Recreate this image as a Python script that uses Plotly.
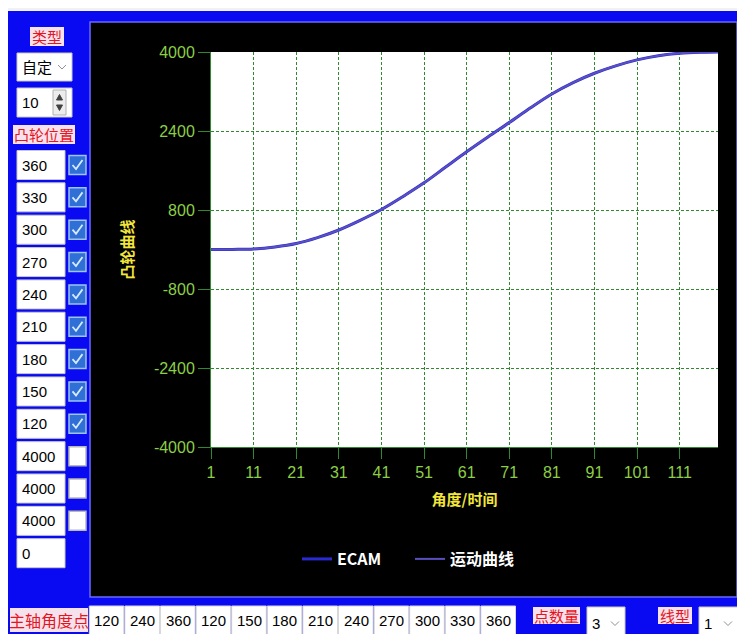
import plotly.graph_objects as go

# ---------------- data ----------------
angle_x = [1, 6, 11, 16, 21, 26, 31, 36, 41, 46, 51, 56, 61, 66, 71, 76, 81, 86, 91, 96, 101, 106, 111, 116, 120]
cam_y = [0, 2, 10, 50, 120, 240, 395, 590, 810, 1070, 1350, 1665, 1980, 2280, 2570, 2870, 3150, 3380, 3570, 3720, 3840, 3925, 3975, 3995, 4000]
x_ticks = [1, 11, 21, 31, 41, 51, 61, 71, 81, 91, 101, 111]
y_ticks = [-4000, -2400, -800, 800, 2400, 4000]
y_tick_text = ["-4000", "-2400", "-800", "800", "2400", "4000"]
series_names = ["ECAM", "运动曲线"]

cam_positions = ["360", "330", "300", "270", "240", "210", "180", "150", "120", "4000", "4000", "4000", "0"]
cam_checked = [True, True, True, True, True, True, True, True, True, False, False, False, None]
spindle_angles = ["120", "240", "360", "120", "150", "180", "210", "240", "270", "300", "330", "360"]
type_value = "自定"
spin_value = "10"
point_count = "3"
line_type = "1"

# ---------------- layout helpers (page pixel -> paper) ----------------
PAGE_W, PAGE_H = 745, 634
OFF = 8                      # page body margin
FW, FH = PAGE_W - OFF, PAGE_H - OFF
L, R, T, B = 211, 718, 52, 447   # plot area in page pixels


def fx(p):
    return (p - L) / (R - L)


def fy(p):
    return (B - p) / (B - T)


shapes = []
annots = []
NARROW = "Liberation Sans Narrow, Arial Narrow, Liberation Sans, Arial"
CJK = "Noto Sans CJK SC"


def rect(x0, y0, x1, y1, fill, line=None, lw=1):
    shapes.append(dict(type="rect", xref="paper", yref="paper",
                       x0=fx(x0), x1=fx(x1), y0=fy(y1), y1=fy(y0),
                       fillcolor=fill,
                       line=dict(color=line if line else fill, width=lw if line else 0),
                       layer="below"))


def path(pts, color, width=1.5, fill=None):
    d = "M " + " L ".join(f"{fx(a):.5f},{fy(b):.5f}" for a, b in pts)
    if fill:
        d += " Z"
    shapes.append(dict(type="path", xref="paper", yref="paper", path=d,
                       line=dict(color=color, width=width),
                       fillcolor=fill if fill else "rgba(0,0,0,0)", layer="below"))


def text(x, y, s, size=14, color="black", anchor="left", family=NARROW, weight="normal"):
    annots.append(dict(xref="paper", yref="paper", x=fx(x), y=fy(y), text=s,
                       showarrow=False, xanchor=anchor, yanchor="middle",
                       font=dict(size=size, color=color, family=family, weight=weight)))


def red_label(x0, y0, x1, y1, s, size=15):
    rect(x0, y0, x1, y1, "#f6e2ec")
    text((x0 + x1) / 2, (y0 + y1) / 2, s, size=size, color="#e6141e", anchor="center", family=CJK)


def dropdown(x0, y0, x1, y1, s, family=NARROW, size=15):
    rect(x0, y0, x1, y1, "white", "#c8c8c8")
    text(x0 + 3, (y0 + y1) / 2, s, size=size, family=family)
    cy = (y0 + y1) / 2
    path([(x1 - 14, cy - 2), (x1 - 10, cy + 2), (x1 - 6, cy - 2)], "#909090", 1)


# top light strip and chart frame
rect(0, 0, PAGE_W, 11, "#f2f2f2")
rect(90, 22, 737, 597, "black", "#6a6aff", 1.5)
rect(L, T, R, B, "white")

# left panel
red_label(30, 27, 64, 46, "类型")
dropdown(17, 53, 72, 81, type_value, family=CJK, size=15)
rect(17, 88, 72, 117, "white", "#c8c8c8")
text(20, 102, spin_value, size=15)
rect(53, 90, 66, 115, "#ececec", "#b0b0b0")
path([(56.5, 100), (59.5, 94.5), (62.5, 100)], "#404040", 1, fill="#404040")
path([(56.5, 105), (59.5, 110.5), (62.5, 105)], "#404040", 1, fill="#404040")
red_label(13, 125, 75, 144, "凸轮位置")

for i, (val, chk) in enumerate(zip(cam_positions, cam_checked)):
    cy = 165 + 32.35 * i
    rect(17, cy - 14.5, 65, cy + 14.5, "white", "#c8c8c8")
    text(20, cy, val, size=15)
    if chk is None:
        continue
    if chk:
        rect(69, cy - 9.5, 86, cy + 9.5, "#2f6fd6", "#9cc4f4", 1.5)
        path([(72.5, cy), (76, cy + 4), (82.5, cy - 5)], "#d6eaff", 1.8)
    else:
        rect(69, cy - 9.5, 86, cy + 9.5, "white", "#b8b8b8", 1.5)

# bottom row
red_label(10, 608, 88, 632, "主轴角度点", size=16)
for i, val in enumerate(spindle_angles):
    x0 = 89.3 + 35.6 * i
    rect(x0, 606, x0 + 34.6, 640, "white", "#d8d8d8")
    text(x0 + 3, 620, val, size=15)
red_label(533, 607, 580, 624, "点数量")
dropdown(587, 607, 625, 640, point_count)
red_label(658, 607, 692, 624, "线型")
dropdown(699, 607, 738, 640, line_type)

# ---------------- figure ----------------
fig = go.Figure()
fig.add_trace(go.Scatter(x=angle_x, y=cam_y, mode="lines", name=series_names[0],
                         line=dict(color="#2a2ad2", width=3, shape="spline")))
fig.add_trace(go.Scatter(x=angle_x, y=cam_y, mode="lines", name=series_names[1],
                         line=dict(color="#5a50c0", width=2, shape="spline")))

green = "#8ccf45"
grid = "#2f8a2f"
fig.update_layout(
    width=FW, height=FH,
    margin=dict(l=L - OFF, r=PAGE_W - R, t=T - OFF, b=PAGE_H - B, pad=0),
    paper_bgcolor="#0a0af2",
    plot_bgcolor="white",
    shapes=shapes,
    annotations=annots,
    showlegend=True,
    legend=dict(orientation="h", x=fx(297), xanchor="left", y=fy(559), yanchor="middle",
                bgcolor="rgba(0,0,0,0)",
                font=dict(color="white", size=16, family=CJK, weight="bold"),
                entrywidth=68, entrywidthmode="pixels",
                itemwidth=30),
    xaxis=dict(range=[1, 120], tickvals=x_ticks, ticks="outside", ticklen=11, tickcolor=grid,
               tickfont=dict(color=green, size=16, family=NARROW),
               showgrid=True, gridcolor=grid, griddash="3px,2px", gridwidth=1,
               showline=True, linecolor=grid, linewidth=1, zeroline=False,
               title=dict(text="角度/时间", standoff=14,
                          font=dict(color="#f2e63c", size=15, family=CJK, weight="bold"))),
    yaxis=dict(range=[-4000, 4000], tickvals=y_ticks, ticktext=y_tick_text,
               ticks="outside", ticklen=12, tickcolor=grid,
               tickfont=dict(color=green, size=16, family=NARROW),
               showgrid=True, gridcolor=grid, griddash="3px,2px", gridwidth=1,
               showline=True, linecolor=grid, linewidth=1, zeroline=False,
               title=dict(text="凸轮曲线", standoff=16,
                          font=dict(color="#f2e63c", size=15, family=CJK, weight="bold"))),
)

fig.write_html("out.html")
